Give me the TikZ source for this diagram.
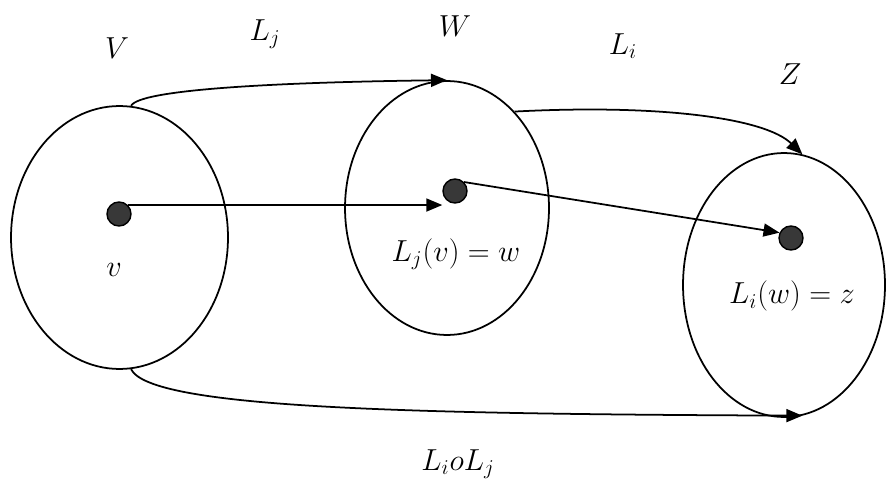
\documentclass[tikz,border=0pt]{standalone}
\usepackage{tikz}
\usetikzlibrary{shapes.geometric,arrows.meta}
\tikzset{
  setbox/.style={draw,ellipse,line width=1pt,inner sep=0pt,minimum width=#1},
  elem/.style={draw,circle,fill=black!78,line width=0.8pt,inner sep=0pt,minimum size=0.48cm},
  lbl/.style={font=\fontsize{17}{20}\selectfont,inner sep=1pt},
}
\begin{document}
\begin{tikzpicture}[
    x=0.02cm,y=-0.02cm,
    arr/.style={-{Triangle[length=3.2mm,width=2.6mm]},line width=1pt},
  ]
  \useasboundingbox (0,0) rectangle (888,486);

  % the three sets
  \node[setbox=4.34cm,minimum height=5.26cm] (V) at (119.5,237.5) {};
  \node[setbox=4.08cm,minimum height=5.08cm] (W) at (447,208) {};
  \node[setbox=4.04cm,minimum height=5.28cm] (Z) at (784,285) {};

  % the elements
  \node[elem] (v) at (119,214) {};
  \node[elem] (w) at (455,191) {};
  \node[elem] (z) at (791,238) {};

  % labels
  \node[lbl] (Vlab) at (117,48) {$V$};
  \node[lbl] (Wlab) at (455,26) {$W$};
  \node[lbl] (Zlab) at (790,74) {$Z$};
  \node[lbl] (Ljlab) at (265,34) {$L_j$};
  \node[lbl] (Lilab) at (623,46) {$L_i$};
  \node[lbl] (vlab) at (114,270) {$v$};
  \node[lbl] (wlab) at (456,254) {$L_j(v)=w$};
  \node[lbl] (zlab) at (792,296) {$L_i(w)=z$};
  \node[lbl] (comp) at (458,464) {$L_i o L_j$};

  % maps between the sets
  \draw[arr] (V.85) .. controls (140,88) and (300,82) .. (W.north);
  \draw[arr] (W.55) .. controls (660,104) and (765,118) .. (Z.82);
  \draw[arr] (V.275) .. controls (150,408) and (400,414) .. (Z.278);

  % maps between the elements
  \draw[arr] (v.north east) -- (v.north east -| w.west);
  \draw[arr] (w.north east) -- (z.155);
\end{tikzpicture}
\end{document}
